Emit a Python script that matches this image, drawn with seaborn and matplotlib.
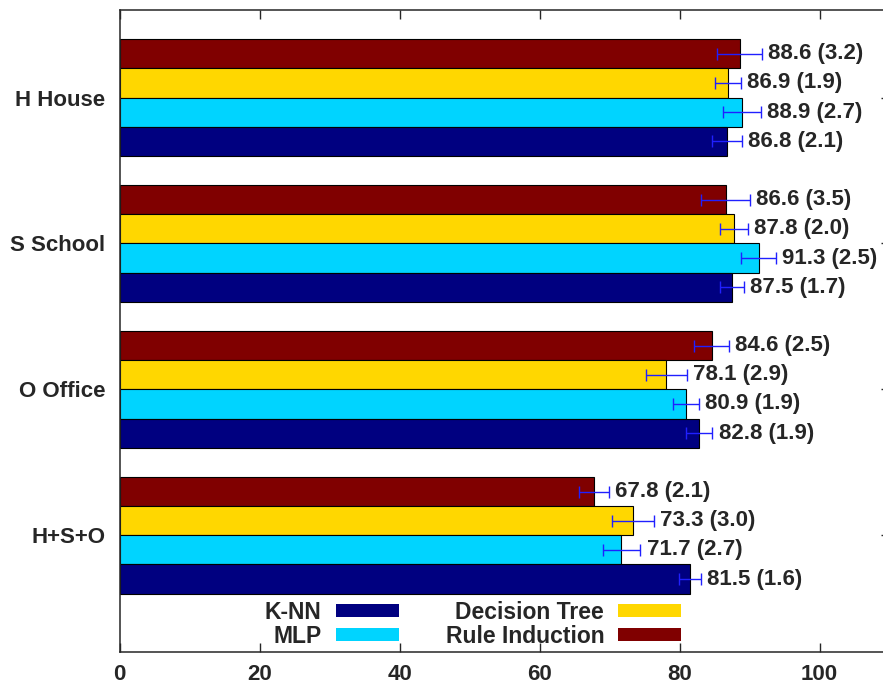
import matplotlib
matplotlib.use("Agg")
import matplotlib.pyplot as plt
from matplotlib.patches import Patch
import seaborn as sns
import pandas as pd

# ---- data ----
groups = ["H House", "S School", "O Office", "H+S+O"]
methods = ["Rule Induction", "Decision Tree", "MLP", "K-NN"]  # top to bottom within a group
knn_mean = [86.8, 87.5, 82.8, 81.5]
knn_std = [2.1, 1.7, 1.9, 1.6]
mlp_mean = [88.9, 91.3, 80.9, 71.7]
mlp_std = [2.7, 2.5, 1.9, 2.7]
dt_mean = [86.9, 87.8, 78.1, 73.3]
dt_std = [1.9, 2.0, 2.9, 3.0]
ri_mean = [88.6, 86.6, 84.6, 67.8]
ri_std = [3.2, 3.5, 2.5, 2.1]
xticks = [0, 20, 40, 60, 80, 100]

colors = {"K-NN": "#000080", "MLP": "#00d4ff", "Decision Tree": "#ffd700", "Rule Induction": "#800000"}
means = {"K-NN": knn_mean, "MLP": mlp_mean, "Decision Tree": dt_mean, "Rule Induction": ri_mean}
stds = {"K-NN": knn_std, "MLP": mlp_std, "Decision Tree": dt_std, "Rule Induction": ri_std}

rows = []
for m in methods:
    for g, v, s in zip(groups, means[m], stds[m]):
        rows.append({"group": g, "method": m, "acc": v, "std": s})
df = pd.DataFrame(rows)

sns.set_style("ticks")
plt.rcParams["font.family"] = ["Liberation Sans", "DejaVu Sans"]
plt.rcParams["font.weight"] = "bold"

W, H = 883, 685
fig = plt.figure(figsize=(W / 100, H / 100), dpi=100)
ax = fig.add_axes([119.5 / W, (H - 652) / H, 770 / W, 642 / H])

sns.barplot(data=df, y="group", x="acc", hue="method", order=groups, hue_order=methods,
            palette=colors, orient="h", width=0.8, saturation=1, errorbar=None,
            edgecolor="black", linewidth=0.8, legend=False, ax=ax)

for cont, m in zip(ax.containers, methods):
    for bar, v, s in zip(cont, means[m], stds[m]):
        yc = bar.get_y() + bar.get_height() / 2
        ax.errorbar(v, yc, xerr=s, fmt="none", ecolor="#2020ff", elinewidth=1.0,
                    capsize=4, capthick=1.0, zorder=5)
        ax.annotate(f"{v:.1f} ({s:.1f})", xy=(v + s, yc), xytext=(4.5, 0),
                    textcoords="offset points", va="center", ha="left",
                    fontsize=16, fontweight="bold")

ax.set_xlim(0, 110)
ax.set_ylim(3.8, -0.6)
ax.set_xticks(xticks)
ax.set_xlabel("")
ax.set_ylabel("")
ax.tick_params(axis="both", direction="in", length=6.5, width=1, labelsize=16,
               top=True, right=True)
ax.tick_params(axis="x", pad=9)
ax.tick_params(axis="y", pad=10)
for sp in ax.spines.values():
    sp.set_linewidth(1.1)
    sp.set_visible(True)

leg_order = ["K-NN", "MLP", "Decision Tree", "Rule Induction"]
handles = [Patch(facecolor=colors[m], edgecolor="none", label=m) for m in leg_order]
ax.legend(handles=handles, ncol=2, markerfirst=False, frameon=False,
          loc="lower left", bbox_to_anchor=(265 / W, 1 - 648 / H),
          bbox_transform=fig.transFigure, borderpad=0, borderaxespad=0,
          handlelength=2.75, handleheight=0.5, handletextpad=0.6,
          columnspacing=2.05, labelspacing=0.05,
          prop={"size": 16.5, "weight": "bold"})

fig.savefig("out.png", dpi=100)
